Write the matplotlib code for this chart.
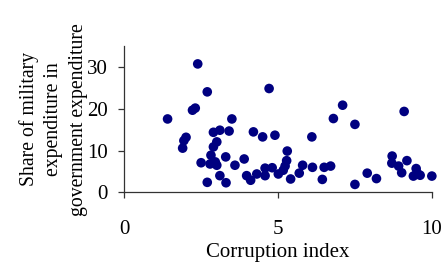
import matplotlib.pyplot as plt

# values
corruption_index = [
    2.39, 2.70, 2.22, 2.31, 1.41, 3.50, 2.01, 1.94, 1.90, 2.90,
    3.11, 3.41, 3.01, 2.90, 2.82, 3.30, 2.50, 2.79, 3.01, 2.96,
    3.60, 3.90, 3.11, 2.70, 3.31, 4.20, 4.50, 4.90, 4.71, 3.98,
    4.11, 4.31, 4.58, 4.58, 4.81, 5.01, 6.10, 6.80, 7.10, 7.50,
    9.10, 5.30, 5.28, 5.23, 5.17, 5.41, 5.69, 5.80, 6.12, 6.44,
    6.50, 6.71, 7.50, 7.90, 8.20, 8.71, 8.70, 8.92, 9.02, 9.19,
    9.49, 9.40, 9.62, 10.0, 9.52,
]
military_share = [
    30.8, 24.1, 19.7, 20.2, 17.6, 17.6, 13.2, 12.4, 10.6, 14.4,
    14.9, 14.7, 12.1, 10.9, 8.9, 8.5, 7.1, 6.8, 6.5, 7.3,
    6.5, 8.0, 4.0, 2.4, 2.3, 14.5, 13.3, 13.7, 24.9, 4.0,
    2.9, 4.4, 5.8, 4.0, 5.9, 4.4, 13.3, 17.7, 20.9, 16.3,
    19.4, 9.9, 7.6, 6.3, 5.3, 3.2, 4.6, 6.5, 6.0, 3.1,
    6.0, 6.3, 1.9, 4.6, 3.3, 8.7, 7.0, 6.3, 4.7, 7.6,
    5.7, 3.9, 4.1, 3.9, 4.7,
]
x_ticks = [0, 5, 10]
y_ticks = [0, 10, 20, 30]

plt.rcParams["font.family"] = ["Liberation Serif", "DejaVu Serif"]

fig = plt.figure(figsize=(4.42, 2.69), dpi=100)
ax = fig.add_axes([0.281, 0.285, 0.696, 0.5425])

ax.scatter(corruption_index, military_share, s=48, color="#000080",
           edgecolors="none", clip_on=False, zorder=3)

ax.set_xlim(0, 10)
ax.set_ylim(0, 35)
ax.set_xticks(x_ticks)
ax.set_yticks(y_ticks)

for side in ["top", "right"]:
    ax.spines[side].set_visible(False)
for side in ["left", "bottom"]:
    ax.spines[side].set_color("#333333")
    ax.spines[side].set_linewidth(0.9)

ax.tick_params(axis="both", direction="out", length=4, width=0.9,
               color="#333333", labelsize=15)
ax.tick_params(axis="x", pad=16)
ax.tick_params(axis="y", pad=8)

ax.set_xlabel("Corruption index", fontsize=15, labelpad=3)
ax.set_ylabel("Share of military\nexpenditure in\ngovernment expenditure",
              fontsize=14.2, multialignment="center", linespacing=1.4)
ax.yaxis.set_label_coords(-0.118, 0.50)

fig.savefig("out.png", dpi=100)
